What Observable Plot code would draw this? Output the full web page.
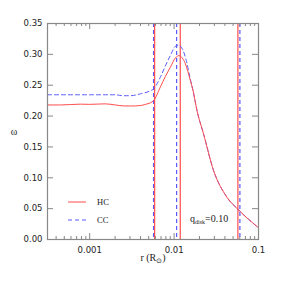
<!DOCTYPE html>
<html><head><meta charset="utf-8">
<script src="https://cdn.jsdelivr.net/npm/d3@7"></script>
<script src="https://cdn.jsdelivr.net/npm/@observablehq/plot@0.6"></script>
<style>body{margin:0;background:#fff}</style>
</head><body><div id="chart"></div>
<script>
// Red solid curve (HC)
const hcR = [3.16e-4,4.5e-4,7.76e-4,1.0e-3,1.53e-3,2.0e-3,2.5e-3,3.03e-3,3.98e-3,4.6e-3,5.23e-3,5.72e-3,6.87e-3,7.87e-3,9.02e-3,1.033e-2,1.15e-2,1.25e-2,1.358e-2,1.555e-2,1.675e-2,1.867e-2,2.234e-2,2.93e-2,4.22e-2,5.8e-2,0.1];
const hcW = [0.218,0.218,0.2193,0.219,0.2198,0.218,0.2165,0.2163,0.217,0.219,0.2215,0.225,0.247,0.264,0.279,0.294,0.298,0.294,0.285,0.258,0.2415,0.209,0.171,0.112,0.0686,0.048,0.019];
// Blue dashed curve (CC)
const ccR = [3.16e-4,1.0e-3,2.0e-3,2.5e-3,3.03e-3,3.98e-3,5.23e-3,5.72e-3,6.87e-3,7.87e-3,9.02e-3,1.033e-2,1.12e-2,1.25e-2,1.394e-2,1.555e-2,1.675e-2,1.867e-2,2.234e-2,2.93e-2,4.22e-2,5.8e-2,0.1];
const ccW = [0.2345,0.2345,0.2345,0.233,0.233,0.236,0.241,0.244,0.263,0.281,0.298,0.313,0.315,0.309,0.29,0.26,0.2415,0.209,0.171,0.112,0.0686,0.048,0.019];
// Vertical markers
const hcLines = [0.00588,0.01183,0.0570];
const ccLines = [0.00571,0.01071,0.0602];
// Ticks
const xMajor = [0.001,0.01,0.1];
const xMinor = [4e-4,5e-4,6e-4,7e-4,8e-4,9e-4,2e-3,3e-3,4e-3,5e-3,6e-3,7e-3,8e-3,9e-3,2e-2,3e-2,4e-2,5e-2,6e-2,7e-2,8e-2,9e-2];
const yTicks = [0,0.05,0.1,0.15,0.2,0.25,0.3,0.35];
const yTickLabels = ["0.00","0.05","0.10","0.15","0.20","0.25","0.30","0.35"];
const xTickLabels = ["0.001","0.01","0.1"];

const RED = "#ff4d4d", BLUE = "#5a5aff", AX = "#888";
const W = 281, H = 281, mL = 47, mR = 23, mT = 23, mB = 42;
const iH = H - mT - mB, iW = W - mL - mR;

const hc = hcR.map((r,i)=>({r, w: hcW[i]}));
const cc = ccR.map((r,i)=>({r, w: ccW[i]}));

const plot = Plot.plot({
  width: W, height: H,
  marginLeft: mL, marginRight: mR, marginTop: mT, marginBottom: mB,
  style: {fontFamily: "DejaVu Sans", fontSize: "8.5px", color: "#222", background: "#fff"},
  x: {type: "log", domain: [Math.pow(10,-3.5), 0.1], axis: null},
  y: {domain: [0, 0.35], axis: null},
  marks: [
    Plot.ruleX(ccLines, {x: d=>d, stroke: BLUE, strokeDasharray: "4,3", strokeWidth: 1.2}),
    Plot.ruleX(hcLines, {x: d=>d, stroke: RED, strokeWidth: 1.2}),
    Plot.line(cc, {x: "r", y: "w", stroke: BLUE, strokeDasharray: "4,3", strokeWidth: 1, curve: "monotone-x"}),
    Plot.line(hc, {x: "r", y: "w", stroke: RED, strokeWidth: 1, curve: "monotone-x"}),
    Plot.tickX(xMajor, {x: d=>d, stroke: AX, insetTop: iH - 6}),
    Plot.tickX(xMajor, {x: d=>d, stroke: AX, insetBottom: iH - 6}),
    Plot.tickX(xMinor, {x: d=>d, stroke: AX, insetTop: iH - 3}),
    Plot.tickX(xMinor, {x: d=>d, stroke: AX, insetBottom: iH - 3}),
    Plot.tickY(yTicks, {y: d=>d, stroke: AX, insetRight: iW - 6}),
    Plot.tickY(yTicks, {y: d=>d, stroke: AX, insetLeft: iW - 6}),
    Plot.frame({stroke: AX, strokeWidth: 1.2}),
    Plot.text(xMajor, {x: d=>d, text: d=>xTickLabels[xMajor.indexOf(d)], frameAnchor: "bottom", lineAnchor: "top", dy: 7, fill: "#222"}),
    Plot.text(yTicks, {y: d=>d, text: d=>yTickLabels[yTicks.indexOf(d)], frameAnchor: "left", textAnchor: "end", dx: -5, fill: "#222"})
  ]
});

const svg = d3.select(plot);
const serif = "Liberation Serif";
// legend
const leg = [{y: 202, c: RED, dash: null, t: "HC"}, {y: 220, c: BLUE, dash: "4,3", t: "CC"}];
leg.forEach(l => {
  svg.append("line").attr("x1", 68).attr("x2", 86).attr("y1", l.y).attr("y2", l.y)
    .attr("stroke", l.c).attr("stroke-width", 1).attr("stroke-dasharray", l.dash);
  svg.append("text").attr("x", 97).attr("y", l.y).attr("dy", "0.35em").attr("text-anchor", "start")
    .attr("font-family", serif).attr("font-size", 8.5).attr("fill", "#222").text(l.t);
});
// annotation
const ann = svg.append("text").attr("x", 190).attr("y", 222).attr("text-anchor", "start")
  .attr("font-family", serif).attr("font-size", 10).attr("fill", "#222");
ann.append("tspan").text("q");
ann.append("tspan").attr("dy", 2).attr("font-size", 6).text("disk");
ann.append("tspan").attr("dy", -2).text("=0.10");
// axis labels
svg.append("text").attr("x", 14).attr("y", 131).attr("text-anchor", "middle").attr("dy", "0.35em")
  .attr("font-family", serif).attr("font-size", 10).attr("fill", "#222").text("ω");
const xl = svg.append("text").attr("x", 153).attr("y", 261).attr("text-anchor", "middle")
  .attr("font-family", serif).attr("font-size", 10).attr("fill", "#222");
xl.append("tspan").text("r (R");
xl.append("tspan").attr("dy", 2).attr("font-size", 7).text("⊙");
xl.append("tspan").attr("dy", -2).text(")");

document.getElementById("chart").appendChild(plot);
</script>
</body></html>
